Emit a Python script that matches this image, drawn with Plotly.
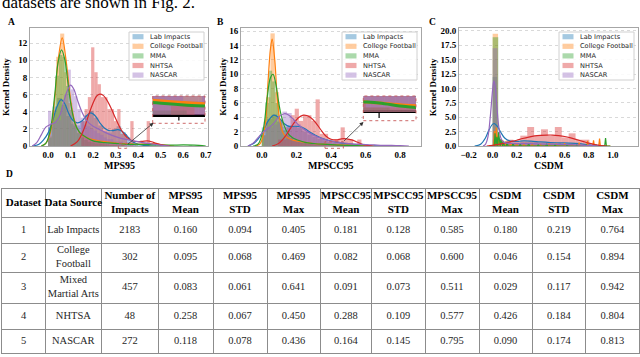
#!/usr/bin/env python3
import plotly.graph_objects as go

W, H = 640, 357
SERIF = "Liberation Serif"
SANS = "DejaVu Sans"

NAMES = ["Lab Impacts", "College Football", "MMA", "NHTSA", "NASCAR"]
RGB = ["31,119,180", "255,127,14", "44,160,44", "214,39,40", "148,103,189"]

# ---- A: MPS95 ----
# (first bin centre, bin width) + density per bin
A_LAB_BIN = (0.0102, 0.0203)
A_LAB_HIST = [2.2, 4.6, 5.6, 4.8, 3.5, 2.6, 2.4, 2.9, 3.6, 4.1, 3.3, 2.4, 1.7, 1.6, 2.0, 2.3, 1.6, 1.0, 0.4, 0.2]
A_CF_BIN = (0.009, 0.018)
A_CF_HIST = [1.2, 4.2, 10.4, 13.1, 8.6, 5.0, 2.8, 1.7, 1.3, 0.9, 0.7, 0.6, 0.4, 0.4, 0.2, 0.2, 0.2, 0.0, 0.2, 0.0,
             0.0, 0.0, 0.0, 0.0, 0.2, 0.2]
A_MMA_BIN = (0.008, 0.016)
A_MMA_HIST = [1.0, 3.8, 8.2, 10.6, 10.4, 7.0, 4.2, 2.4, 1.5, 1.0, 0.7, 0.5, 0.4, 0.3, 0.3, 0.2, 0.2, 0.1, 0.1, 0.1,
              0.1, 0.0, 0.1, 0.0, 0.1, 0.0, 0.0, 0.1, 0.0, 0.0, 0.0, 0.0, 0.0, 0.0, 0.0, 0.0, 0.0, 0.0, 0.0, 0.1]
A_NHT_BIN = (0.155, 0.0145)
A_NHT_HIST = [2.9, 4.3, 5.7, 11.5, 8.6, 7.2, 5.7, 5.7, 4.3, 4.3, 2.9, 4.3, 1.4, 1.4, 0.0, 2.9, 0.0, 0.0, 0.0, 0.0, 2.9]
A_NAS_BIN = (0.007, 0.0145)
A_NAS_HIST = [4.1, 2.5, 2.8, 3.0, 4.5, 6.0, 8.9, 6.6, 5.8, 4.3, 3.3, 2.5, 2.3, 2.0, 1.8, 1.5, 1.3, 1.0, 0.8, 0.8,
              0.5, 0.5, 0.5, 0.3, 0.5, 0.3, 0.3, 0.0, 0.3, 0.3]

A_LAB_KX = [-0.07, -0.04, -0.02, 0.0, 0.02, 0.04, 0.058, 0.075, 0.09, 0.11, 0.13, 0.15, 0.17, 0.19, 0.21, 0.23,
            0.25, 0.27, 0.29, 0.31, 0.33, 0.35, 0.37, 0.39, 0.42, 0.45, 0.48]
A_LAB_KY = [0.0, 0.2, 0.7, 1.5, 2.9, 4.6, 5.4, 4.9, 3.9, 3.0, 2.7, 2.9, 3.5, 3.85, 3.5, 2.7, 2.1, 1.8, 1.8, 1.9,
            1.7, 1.2, 0.6, 0.3, 0.1, 0.03, 0.0]
A_CF_KX = [-0.03, -0.01, 0.01, 0.03, 0.045, 0.063, 0.08, 0.095, 0.11, 0.13, 0.15, 0.18, 0.21, 0.25, 0.3, 0.35,
           0.4, 0.45, 0.48, 0.52, 0.56]
A_CF_KY = [0.0, 0.3, 1.5, 5.5, 10.0, 12.6, 10.0, 6.5, 3.8, 2.0, 1.3, 0.9, 0.7, 0.5, 0.35, 0.25, 0.2, 0.3, 0.25,
           0.1, 0.0]
A_MMA_KX = [-0.03, -0.01, 0.01, 0.03, 0.045, 0.06, 0.075, 0.09, 0.105, 0.12, 0.14, 0.17, 0.2, 0.25, 0.3, 0.35,
            0.4, 0.45, 0.5, 0.55, 0.6, 0.65, 0.7]
A_MMA_KY = [0.0, 0.3, 1.8, 6.0, 9.8, 11.2, 10.0, 7.0, 4.3, 2.6, 1.6, 1.0, 0.6, 0.4, 0.3, 0.2, 0.2, 0.15, 0.1, 0.1,
            0.12, 0.1, 0.0]
A_NHT_KX = [0.10, 0.13, 0.16, 0.18, 0.20, 0.215, 0.23, 0.245, 0.26, 0.28, 0.30, 0.32, 0.34, 0.36, 0.38, 0.40,
            0.42, 0.44, 0.46, 0.48, 0.51, 0.54]
A_NHT_KY = [0.0, 0.5, 2.0, 3.6, 5.0, 5.8, 6.05, 5.9, 5.4, 4.4, 3.2, 2.1, 1.3, 0.8, 0.55, 0.5, 0.55, 0.6, 0.5, 0.3,
            0.1, 0.0]
A_NAS_KX = [-0.07, -0.05, -0.03, -0.01, 0.01, 0.03, 0.05, 0.07, 0.085, 0.1, 0.115, 0.13, 0.15, 0.17, 0.2, 0.23,
            0.26, 0.3, 0.34, 0.38, 0.42, 0.46, 0.5, 0.54]
A_NAS_KY = [0.0, 0.4, 1.3, 2.2, 2.5, 2.7, 3.4, 5.2, 6.4, 7.1, 6.6, 5.4, 4.0, 3.0, 2.3, 1.9, 1.5, 1.1, 0.8, 0.6,
            0.4, 0.25, 0.1, 0.0]

# ---- B: MPSCC95 ----
B_LAB_BIN = (0.0146, 0.0293)
B_LAB_HIST = [2.6, 3.8, 4.4, 3.4, 2.7, 2.9, 2.8, 2.5, 2.0, 1.6, 1.3, 1.0, 0.8, 0.6, 0.5, 0.4, 0.3, 0.2, 0.15, 0.1]
B_CF_BIN = (0.0125, 0.025)
B_CF_HIST = [1.5, 6.8, 15.7, 7.5, 3.2, 1.6, 1.0, 0.7, 0.6, 0.5, 0.4, 0.3, 0.3, 0.2, 0.2, 0.1, 0.1, 0.1, 0.1, 0.0,
             0.1, 0.0, 0.0, 0.1]
B_MMA_BIN = (0.01, 0.02)
B_MMA_HIST = [1.5, 6.0, 10.5, 9.0, 6.0, 3.6, 2.2, 1.5, 1.1, 0.8, 0.6, 0.5, 0.4, 0.3, 0.3, 0.2, 0.2, 0.15, 0.1, 0.1,
              0.1, 0.05, 0.05, 0.05, 0.05, 0.05]
B_NHT_BIN = (0.106, 0.0241)
B_NHT_HIST = [0.9, 0.9, 2.6, 4.3, 5.2, 3.5, 4.3, 4.3, 3.5, 6.5, 1.7, 1.7, 0.9, 0.9, 0.9, 2.6, 0.9, 0.9, 0.0, 0.9]
B_NAS_BIN = (0.0245, 0.027)
B_NAS_HIST = [3.4, 2.6, 3.0, 3.8, 4.8, 4.6, 3.6, 3.0, 2.4, 2.0, 1.6, 1.3, 1.0, 0.8, 0.6, 0.5, 0.4, 0.3, 0.25, 0.2,
              0.15, 0.1, 0.1, 0.1, 0.05, 0.05, 0.05, 0.0, 0.0, 0.05]

B_LAB_KX = [-0.08, -0.05, -0.02, 0.01, 0.04, 0.07, 0.1, 0.13, 0.16, 0.19, 0.22, 0.25, 0.28, 0.31, 0.34, 0.37,
            0.4, 0.44, 0.48, 0.52, 0.56, 0.6, 0.65, 0.7]
B_LAB_KY = [0.0, 0.3, 1.0, 2.2, 3.6, 4.3, 3.9, 3.1, 2.7, 2.75, 2.7, 2.4, 1.9, 1.5, 1.15, 0.9, 0.7, 0.5, 0.35, 0.25,
            0.15, 0.08, 0.03, 0.0]
B_CF_KX = [-0.04, -0.01, 0.02, 0.035, 0.05, 0.06, 0.075, 0.09, 0.105, 0.12, 0.14, 0.17, 0.2, 0.25, 0.3, 0.35,
           0.4, 0.45, 0.5, 0.55, 0.6, 0.65]
B_CF_KY = [0.0, 0.3, 3.0, 8.5, 13.5, 14.9, 12.0, 6.5, 3.5, 2.0, 1.3, 0.9, 0.7, 0.5, 0.35, 0.25, 0.2, 0.15, 0.12,
           0.1, 0.05, 0.0]
B_MMA_KX = [-0.05, -0.02, 0.01, 0.03, 0.05, 0.065, 0.08, 0.095, 0.11, 0.13, 0.15, 0.18, 0.21, 0.25, 0.3, 0.35,
            0.4, 0.45, 0.5, 0.55, 0.6]
B_MMA_KY = [0.0, 0.3, 2.5, 6.5, 9.5, 10.0, 8.8, 6.5, 4.5, 2.8, 1.8, 1.1, 0.8, 0.5, 0.35, 0.25, 0.2, 0.12, 0.08,
            0.04, 0.0]
B_NHT_KX = [0.06, 0.1, 0.14, 0.18, 0.21, 0.24, 0.26, 0.28, 0.31, 0.34, 0.37, 0.4, 0.43, 0.46, 0.49, 0.52, 0.55,
            0.58, 0.61, 0.64]
B_NHT_KY = [0.0, 0.4, 1.5, 3.0, 3.9, 4.3, 4.25, 4.0, 3.3, 2.3, 1.4, 0.95, 0.85, 1.0, 1.0, 0.85, 0.55, 0.25, 0.08,
            0.0]
B_NAS_KX = [-0.08, -0.05, -0.02, 0.01, 0.04, 0.07, 0.1, 0.13, 0.15, 0.18, 0.21, 0.24, 0.27, 0.3, 0.34, 0.38,
            0.42, 0.46, 0.5, 0.55, 0.6, 0.65, 0.7, 0.75, 0.8, 0.85]
B_NAS_KY = [0.0, 0.4, 1.2, 2.0, 2.5, 3.2, 4.1, 4.5, 4.4, 3.8, 3.0, 2.4, 1.9, 1.5, 1.1, 0.8, 0.6, 0.45, 0.35, 0.25,
            0.2, 0.15, 0.1, 0.08, 0.04, 0.0]

# ---- C: CSDM ----
C_LAB_BIN = (0.019, 0.038)
C_LAB_HIST = [12.0, 1.0, 0.8, 0.7, 0.6, 0.6, 0.7, 0.7, 0.8, 0.7, 0.6, 0.6, 0.5, 0.5, 0.5, 0.4, 0.4, 0.3, 0.3, 0.2]
C_CF_BIN = (0.0225, 0.045)
C_CF_HIST = [19.5, 0.6, 0.3, 0.25, 0.2, 0.2, 0.2, 0.2, 0.15, 0.15, 0.1, 0.1, 0.1, 0.1, 0.05, 0.05, 0.05, 0.05,
             0.05, 0.05]
C_MMA_BIN = (0.0235, 0.047)
C_MMA_HIST = [18.9, 0.5, 0.3, 0.2, 0.15, 0.1, 0.1, 0.1, 0.1, 0.05, 0.05, 0.05, 0.05, 0.05, 0.05, 0.0, 0.0, 0.05,
              0.0, 0.05]
C_NHT_BIN = (0.029, 0.0575)
C_NHT_HIST = [1.1, 0.4, 1.1, 0.7, 1.8, 3.3, 1.8, 2.9, 1.8, 3.3, 1.5, 2.2, 1.1, 1.1]
C_NAS_BIN = (0.0205, 0.041)
C_NAS_HIST = [17.0, 0.9, 0.5, 0.4, 0.4, 0.3, 0.3, 0.3, 0.3, 0.2, 0.2, 0.2, 0.15, 0.1, 0.1, 0.1, 0.05, 0.05, 0.05,
              0.05]

C_LAB_KX = [-0.15, -0.1, -0.06, -0.03, 0.0, 0.015, 0.04, 0.07, 0.1, 0.14, 0.2, 0.26, 0.32, 0.4, 0.48, 0.56,
            0.64, 0.72, 0.8, 0.88, 0.95]
C_LAB_KY = [0.0, 0.3, 1.4, 2.8, 3.8, 3.9, 3.4, 2.3, 1.4, 0.9, 0.8, 0.9, 0.85, 0.7, 0.6, 0.55, 0.5, 0.4, 0.2, 0.05,
            0.0]
# CF and MMA kde collapse to spikes (lots of zeros), so store spike spots + heights
C_CF_SPX = [0.015, 0.03, 0.045, 0.06, 0.085, 0.11, 0.15, 0.2, 0.26, 0.33, 0.4, 0.47, 0.53, 0.6, 0.66, 0.72, 0.79,
            0.84, 0.89]
C_CF_SPY = [2.6, 3.2, 1.8, 1.2, 1.0, 0.8, 0.6, 0.5, 0.4, 0.5, 0.3, 0.5, 0.4, 0.5, 0.3, 0.6, 0.9, 1.0, 1.3]
C_MMA_SPX = [0.02, 0.035, 0.05, 0.07, 0.09, 0.12, 0.17, 0.23, 0.3, 0.38, 0.45, 0.52, 0.62, 0.7, 0.78, 0.86, 0.94]
C_MMA_SPY = [2.2, 1.6, 2.4, 1.2, 0.8, 0.7, 0.5, 0.4, 0.5, 0.3, 0.4, 0.3, 0.3, 0.2, 0.3, 0.2, 1.4]
C_NHT_KX = [-0.05, 0.0, 0.05, 0.1, 0.15, 0.2, 0.25, 0.3, 0.35, 0.4, 0.45, 0.5, 0.55, 0.6, 0.65, 0.7, 0.75, 0.8,
            0.85, 0.9, 0.95]
C_NHT_KY = [0.0, 0.1, 0.3, 0.5, 0.75, 1.0, 1.3, 1.55, 1.75, 1.85, 1.9, 1.9, 1.8, 1.65, 1.4, 1.1, 0.8, 0.5, 0.25,
            0.08, 0.0]
C_NAS_KX = [-0.08, -0.06, -0.04, -0.02, 0.0, 0.01, 0.02, 0.035, 0.05, 0.07, 0.09, 0.12, 0.16, 0.22, 0.3, 0.4,
            0.5, 0.6, 0.7, 0.8, 0.88]
C_NAS_KY = [0.0, 0.3, 1.5, 5.0, 9.8, 11.3, 10.5, 7.0, 3.5, 1.3, 0.7, 0.5, 0.45, 0.4, 0.4, 0.35, 0.3, 0.25, 0.2,
            0.1, 0.0]

# ---- D: table ----
TBL_HEAD = ["Dataset", "Data Source", "Number of<br>Impacts", "MPS95<br>Mean", "MPS95<br>STD", "MPS95<br>Max",
            "MPSCC95<br>Mean", "MPSCC95<br>STD", "MPSCC95<br>Max", "CSDM<br>Mean", "CSDM<br>STD", "CSDM<br>Max"]
DATASET = [1, 2, 3, 4, 5]
SOURCE = ["Lab Impacts", "College<br>Football", "Mixed<br>Martial Arts", "NHTSA", "NASCAR"]
N_IMPACTS = [2183, 302, 457, 48, 272]
MPS95_MEAN = [0.160, 0.095, 0.083, 0.258, 0.118]
MPS95_STD = [0.094, 0.068, 0.061, 0.067, 0.078]
MPS95_MAX = [0.405, 0.469, 0.641, 0.450, 0.436]
MPSCC95_MEAN = [0.181, 0.082, 0.091, 0.288, 0.164]
MPSCC95_STD = [0.128, 0.068, 0.073, 0.109, 0.145]
MPSCC95_MAX = [0.585, 0.600, 0.511, 0.577, 0.795]
CSDM_MEAN = [0.180, 0.046, 0.029, 0.426, 0.090]
CSDM_STD = [0.219, 0.154, 0.117, 0.184, 0.174]
CSDM_MAX = [0.764, 0.894, 0.942, 0.804, 0.813]


def spikes(cx, cy, half=0.007):
    # turn spike spots into a polyline sitting on zero
    xs, ys = [-0.03], [0.0]
    for c, h in zip(cx, cy):
        xs += [c - half, c, c + half]
        ys += [0.0, h, 0.0]
    xs.append(0.98)
    ys.append(0.0)
    return xs, ys


def rgba(i, a):
    return f"rgba({RGB[i]},{a})"


def addPanel(fig, xa, ya, hists, kdes, lw=1.2):
    for i in range(5):
        (x0, dx), h = hists[i]
        fig.add_trace(go.Bar(x0=x0, dx=dx, y=h, width=dx, marker=dict(color=rgba(i, 0.4), line_width=0),
                             xaxis=xa, yaxis=ya, showlegend=False, hoverinfo="skip"))
        kx, ky, smooth = kdes[i]
        fig.add_trace(go.Scatter(x=kx, y=ky, mode="lines", xaxis=xa, yaxis=ya, showlegend=False, hoverinfo="skip",
                                 line=dict(color=rgba(i, 1), width=lw, shape="spline" if smooth else "linear")))


TICKFONT = dict(family=SERIF, size=9, color="black", weight="bold")


def xAx(l, r, rng, dtick, anchor):
    return dict(domain=[l / W, r / W], range=rng, dtick=dtick, tickformat=".1f", anchor=anchor, automargin=False,
                showline=True, mirror=True, linecolor="#a6a6a6", linewidth=1, ticks="",
                showgrid=False, zeroline=False, tickfont=TICKFONT)


def yAx(t, b, rng, dtick, fmt, anchor):
    return dict(domain=[1 - b / H, 1 - t / H], range=rng, dtick=dtick, tick0=0, tickformat=fmt, anchor=anchor,
                automargin=False, showline=True, mirror=True, linecolor="#a6a6a6", linewidth=1, ticks="",
                showgrid=True, gridcolor="#d9d9d9", griddash="dot", zeroline=False, tickfont=TICKFONT)


def insetAx(l, r, t, b, xr, yr, anchor_x, anchor_y):
    xa = dict(domain=[l / W, r / W], range=xr, anchor=anchor_y, showticklabels=False, automargin=False,
              showline=False, showgrid=False, zeroline=False, ticks="")
    ya = dict(domain=[1 - b / H, 1 - t / H], range=yr, anchor=anchor_x, showticklabels=False, showline=False,
              showgrid=False, zeroline=True, zerolinecolor="black", zerolinewidth=3, ticks="",
              automargin=False, layer="above traces")
    return xa, ya


fig = go.Figure()

A_H = [(A_LAB_BIN, A_LAB_HIST), (A_CF_BIN, A_CF_HIST), (A_MMA_BIN, A_MMA_HIST), (A_NHT_BIN, A_NHT_HIST),
       (A_NAS_BIN, A_NAS_HIST)]
A_K = [(A_LAB_KX, A_LAB_KY, True), (A_CF_KX, A_CF_KY, True), (A_MMA_KX, A_MMA_KY, True),
       (A_NHT_KX, A_NHT_KY, True), (A_NAS_KX, A_NAS_KY, True)]
B_H = [(B_LAB_BIN, B_LAB_HIST), (B_CF_BIN, B_CF_HIST), (B_MMA_BIN, B_MMA_HIST), (B_NHT_BIN, B_NHT_HIST),
       (B_NAS_BIN, B_NAS_HIST)]
B_K = [(B_LAB_KX, B_LAB_KY, True), (B_CF_KX, B_CF_KY, True), (B_MMA_KX, B_MMA_KY, True),
       (B_NHT_KX, B_NHT_KY, True), (B_NAS_KX, B_NAS_KY, True)]
C_H = [(C_LAB_BIN, C_LAB_HIST), (C_CF_BIN, C_CF_HIST), (C_MMA_BIN, C_MMA_HIST), (C_NHT_BIN, C_NHT_HIST),
       (C_NAS_BIN, C_NAS_HIST)]
C_K = [(C_LAB_KX, C_LAB_KY, True), (*spikes(C_CF_SPX, C_CF_SPY), False), (*spikes(C_MMA_SPX, C_MMA_SPY), False),
       (C_NHT_KX, C_NHT_KY, True), (C_NAS_KX, C_NAS_KY, True)]

addPanel(fig, "x", "y", A_H, A_K)
addPanel(fig, "x2", "y2", B_H, B_K)
addPanel(fig, "x3", "y3", C_H, C_K)
# zoomed insets
addPanel(fig, "x4", "y4", A_H, A_K, lw=3)
addPanel(fig, "x5", "y5", B_H, B_K, lw=3)

# panel boxes in px
TOP, BOT = 28, 146
PA, PB, PC = (30, 208), (241, 421), (459, 638)

lay = dict(
    xaxis=xAx(*PA, [-0.08, 0.71], 0.1, "y"), yaxis=yAx(TOP, BOT, [0, 13.75], 2, "d", "x"),
    xaxis2=xAx(*PB, [-0.12, 0.92], 0.2, "y2"), yaxis2=yAx(TOP, BOT, [0, 16.45], 2, "d", "x2"),
    xaxis3=xAx(*PC, [-0.28, 1.21], 0.2, "y3"), yaxis3=yAx(TOP, BOT, [0, 20.5], 2.5, ".1f", "x3"),
)
INSET_A = (152.7, 205, 96, 123.3)
INSET_B = (363.3, 416, 96, 120.7)
lay["xaxis4"], lay["yaxis4"] = insetAx(*INSET_A, [0.31, 0.35], [-0.18, 0.42], "x4", "y4")
lay["xaxis5"], lay["yaxis5"] = insetAx(*INSET_B, [0.37, 0.47], [-0.2, 0.36], "x5", "y5")

# ---- table drawn on its own axes: grid = cell borders, text traces = cells ----
COL_W = [43, 56.7, 56.3, 55, 54, 53, 51.7, 53.3, 54, 53, 53.7, 53.3]
ROW_H = [28, 26, 29, 31, 26, 24]
col_edges, row_edges = [0], [0]
for w in COL_W:
    col_edges.append(col_edges[-1] + w)
for h in ROW_H:
    row_edges.append(row_edges[-1] + h)
GRID = "#8c8c8c"
lay["xaxis6"] = dict(domain=[2 / W, 639 / W], range=[0, col_edges[-1]], anchor="y6", tickvals=col_edges,
                     showticklabels=False, ticks="", showgrid=True, gridcolor=GRID, gridwidth=1, zeroline=False,
                     showline=True, mirror=True, linecolor=GRID, automargin=False)
lay["yaxis6"] = dict(domain=[1 - 353 / H, 1 - 189 / H], range=[row_edges[-1], 0], anchor="x6", tickvals=row_edges,
                     showticklabels=False, ticks="", showgrid=True, gridcolor=GRID, gridwidth=1, zeroline=False,
                     showline=True, mirror=True, linecolor=GRID, automargin=False)

columns = [DATASET, SOURCE, N_IMPACTS, MPS95_MEAN, MPS95_STD, MPS95_MAX, MPSCC95_MEAN, MPSCC95_STD,
           MPSCC95_MAX, CSDM_MEAN, CSDM_STD, CSDM_MAX]
row_mid = [(row_edges[k] + row_edges[k + 1]) / 2 for k in range(len(ROW_H))]
for j, col in enumerate(columns):
    cells = [v if isinstance(v, str) else (f"{v:.3f}" if isinstance(v, float) else str(v)) for v in col]
    fig.add_trace(go.Scatter(
        x=[(col_edges[j] + col_edges[j + 1]) / 2] * 6, y=row_mid, mode="text", xaxis="x6", yaxis="y6",
        text=[f"<b>{TBL_HEAD[j]}</b>"] + cells, textposition="middle center", showlegend=False,
        hoverinfo="skip", cliponaxis=False,
        textfont=dict(family=SERIF, size=[11] + [10.5] * 5, color=["black"] + ["#262626"] * 5)))

shapes, annos = [], []


def txt(x, y, s, size, bold=True, angle=0, family=SERIF, xanchor="center", color="black", yanchor="middle"):
    annos.append(dict(x=x / W, y=1 - y / H, xref="paper", yref="paper", text=s, showarrow=False,
                      textangle=angle, xanchor=xanchor, yanchor=yanchor,
                      font=dict(family=family, size=size, color=color, weight="bold" if bold else "normal")))


def legendBox(right):
    l, r = right - 79, right - 4
    shapes.append(dict(type="rect", xref="paper", yref="paper", x0=l / W, x1=r / W, y0=1 - (TOP + 52) / H,
                       y1=1 - (TOP + 4) / H, fillcolor="rgba(255,255,255,0.85)", line=dict(color="#d0d0d0", width=1)))
    for i, name in enumerate(NAMES):
        cy = TOP + 8.7 + i * 9.6
        shapes.append(dict(type="rect", xref="paper", yref="paper", x0=(l + 3.5) / W, x1=(l + 14.5) / W,
                           y0=1 - (cy + 2.6) / H, y1=1 - (cy - 2.6) / H, fillcolor=rgba(i, 0.4), line_width=0))
        txt(l + 19, cy, name, 6.6, bold=False, family=SANS, xanchor="left", color="#262626")


for p in (PA, PB, PC):
    legendBox(p[1])

# inset frames, source boxes and arrows
RED = "rgba(200,90,90,0.9)"
for l, r, t, b in (INSET_A, INSET_B, (118.3, 126.7, 143.3, 148.3), (325, 343.3, 141.7, 148.3)):
    shapes.append(dict(type="rect", xref="paper", yref="paper", x0=l / W, x1=r / W, y0=1 - b / H, y1=1 - t / H,
                       line=dict(color=RED, width=1, dash="dot")))
shapes.append(dict(type="line", xref="x4", yref="y4", x0=0.33, x1=0.33, y0=0, y1=-0.12,
                   line=dict(color="black", width=1.2)))
shapes.append(dict(type="line", xref="x5", yref="y5", x0=0.4, x1=0.4, y0=0, y1=-0.14,
                   line=dict(color="black", width=1.2)))
for hx, hy, dx, dy in ((153.5, 122.8, -27, 22.5), (363.5, 122, -21, 20.5)):
    annos.append(dict(x=hx / W, y=1 - hy / H, xref="paper", yref="paper", text="", showarrow=True, ax=dx, ay=dy,
                      arrowhead=2, arrowsize=1, arrowwidth=0.8, arrowcolor="#333"))

# titles and panel letters
txt(11.7, 21.7, "A", 9.5)
txt(220.5, 21.7, "B", 9.5)
txt(432, 21.7, "C", 9.5)
txt(9, 174, "D", 9.5)
for x in (6, 222.7, 433.3):
    txt(x, 87, "Kernel Density", 9, angle=-90)
txt(119, 165, "MPS95", 10)
txt(331, 165, "MPSCC95", 10)
txt(548.5, 165, "CSDM", 10)
# tail of the body text sitting above the figure
txt(0, 14.5, "datasets are shown in Fig. 2.", 17, bold=False, xanchor="left", yanchor="bottom")

fig.update_layout(**lay)
fig.update_layout(width=W, height=H, margin=dict(l=0, r=0, t=0, b=0, autoexpand=False), paper_bgcolor="white",
                  plot_bgcolor="white", barmode="overlay", showlegend=False, shapes=shapes, annotations=annos)

# the page body has a default 8px margin, drop it so the figure sits at 0,0
fig.write_html("out.html", config={"displayModeBar": False},
               post_script="document.body.style.margin='0px';")
